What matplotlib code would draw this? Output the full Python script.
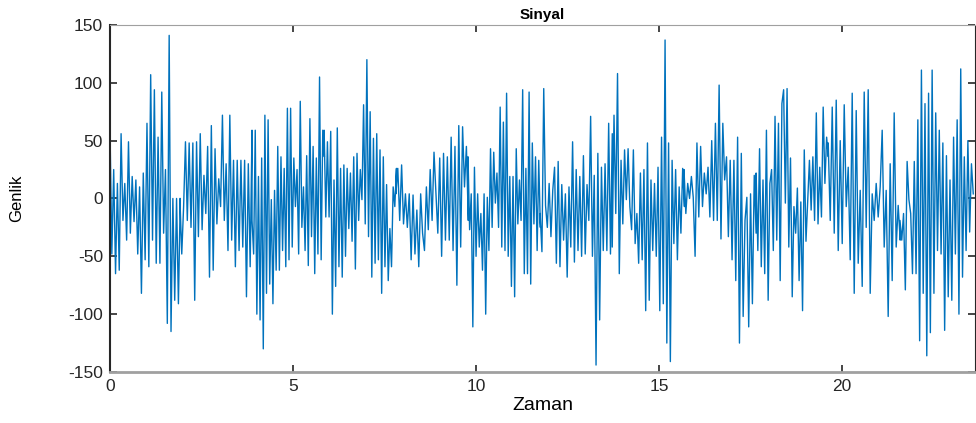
import numpy as np
import matplotlib
matplotlib.use("Agg")
import matplotlib.pyplot as plt

plt.rcParams['font.family'] = ['Liberation Sans', 'DejaVu Sans']
plt.rcParams['axes.unicode_minus'] = False

# signal extrema, one list per ~2 s stretch
seg_t = [(0.0, 1.97), (1.91, 3.93), (3.88, 5.90), (5.85, 7.87), (7.81, 9.84), (9.78, 11.80),
         (11.75, 13.77), (13.72, 15.74), (15.68, 17.70), (17.65, 19.67), (19.62, 21.64), (21.58, 23.63)]

s1 = [60, -48, 25, -65, 13, -62, 56, -19, 13, -36, 49, -30, 19, -20, 16, -48, 10, -82, 22, -53,
      65, -59, 107, -36, 94, -56, 53, -56, 92, -30, 25, -108, 141, -115, 0, -88, 0, -91, 0]
s2 = [0, -48, -7, 49, -19, 48, -25, 48, -88, 49, -33, 56, -27, 20, -13, 45, -68, 63, -62, 43,
      -22, 17, -7, 72, -19, 30, -45, 72, -36, 33, -59, 33, -45, 33, -42, 33, -85, 30, -59, 59]
s3 = [-19, -48, 59, -100, 19, -105, 35, -130, 72, -82, 68, -74, -1, -91, 7, -62, 45, -62, 36, -45,
      26, -59, 78, -53, 78, -42, 35, -7, 25, -48, 84, -25, 10, -45, 37, -58, 69, -33, 45, -65,
      35, -48, 105, -53, 59, 36]
s4 = [59, -16, 49, -16, 58, -100, 16, -76, 61, -59, 26, -68, 29, -50, 26, -26, 22, -37, 36, -61,
      39, -19, 25, -1, 81, -22, 120, -33, 75, -68, 52, -56, 56, -53, 42, -82, 36, -59, 12, -71,
      -26, -59, 10, -7, 26]
s5 = [4, 26, -19, 29, -22, 4, -25, 4, -53, 3, -48, -10, -59, 4, -30, -45, 10, -27, 25, -19,
      40, 4, -30, 35, -50, 39, -36, 36, -36, 53, -45, 45, -75, 63, -42, 62, 10, 45, -19]
s6 = [36, -27, 4, -111, 27, -50, 4, -42, -13, -62, 4, -100, 1, -45, 43, -25, 40, -4, 22, -25,
      79, -42, 66, -45, 91, -50, 19, -76, 19, -85, 43, -22, 16, -19, 94, -65, 26, -65, 92, -74,
      48, -22, 36, -45, 33, -25]
s7 = [-13, -46, 95, -6, -25, 13, -33, 7, 27, -56, 32, -59, 12, -36, 4, -68, 10, -42, 49, -55,
      25, -45, 19, -50, 37, -48, 12, -19, 71, -50, 20, -144, 39, -105, 27, -45, 30, -45, 65, -48, 56]
s8 = [-42, 72, -13, 108, -65, 33, -22, 42, -1, 43, -7, -27, 42, -39, -13, -56, 22, -53, 25, -97,
      48, -88, 16, -45, 13, -50, 27, -97, 53, -91, 137, -125, 48, -141, 33, -39, 25, -53, 10, -30,
      26, -7]
s9 = [25, -13, 13, 0, 19, 1, -50, 48, -16, 45, -7, 22, 4, 27, -16, 50, -19, 65, -19, 98,
      -35, 65, 16, 36, -33, 33, -53, 33, -71, 53, -125, 39, -102, -19, 1, -111, 4, -91, 20, -30]
s10 = [22, -45, 43, -59, 16, -65, 59, -88, 13, 25, -45, 71, -36, 65, -71, 82, 94, -4, 95, -42,
       35, -85, -7, -30, 9, -71, -3, -97, 42, -37, -1, 33, -10, 36, -19, 74, -22, 27, -16, 79,
       13, 53, 36]
s11 = [48, -19, 79, -30, 85, -45, 50, -39, 81, -7, 27, -53, 91, -82, 76, -56, 7, -76, 92, -25,
       94, -82, 4, -19, 13, -16, 10, 59, -42, 7, -102, 30, -71, 74, -42, -6, -36]
s12 = [-19, -36, -13, -79, 32, -1, -13, -65, 32, -65, 68, -123, 111, -82, 82, -136, 91, -116, 111, -82,
       74, -45, 59, -48, 48, -114, 37, -85, 16, -88, 53, -48, 68, -100, 112, -68, 36, -45, 50, -29,
       30, 4]
segments = [s1, s2, s3, s4, s5, s6, s7, s8, s9, s10, s11, s12]

t = []
y = []
for (a, b), s in zip(seg_t, segments):
    tt = np.linspace(a, b, len(s), endpoint=False)
    t.extend(tt)
    y.extend(s)
t = np.array(t)
y = np.array(y)

fig = plt.figure(figsize=(9.76, 4.23), dpi=100)
ax = fig.add_axes([0.1127, 0.1206, 0.8863, 0.8204])
ax.plot(t, y, color='#0072BD', lw=1.0)
ax.set_xlim(0, 23.63)
ax.set_ylim(-150, 150)
ax.set_xticks([0, 5, 10, 15, 20])
ax.set_yticks([-150, -100, -50, 0, 50, 100, 150])
ax.tick_params(direction='in', top=True, right=True, labelsize=12.5, length=5, width=1.2,
               colors='#262626', pad=5)
for sp in ax.spines.values():
    sp.set_color('#262626')
ax.spines['top'].set_color('#a0a0a0')
ax.spines['bottom'].set_color('#a0a0a0')
ax.spines['bottom'].set_linewidth(2)
ax.spines['left'].set_linewidth(1.5)
ax.set_title('Sinyal', fontsize=11, fontweight='bold', pad=4)
ax.set_xlabel('Zaman', fontsize=14, labelpad=2)
ax.set_ylabel('Genlik', fontsize=12, labelpad=32)
fig.savefig('out.png', dpi=100)
